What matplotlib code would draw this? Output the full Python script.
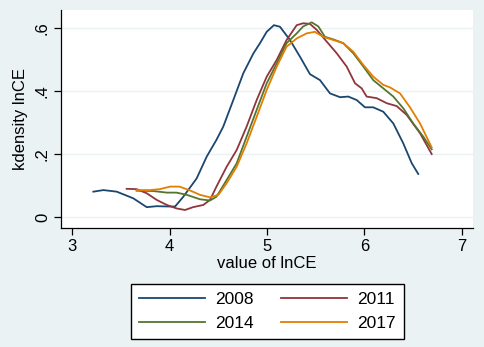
import matplotlib
matplotlib.use("Agg")
import matplotlib.pyplot as plt

plt.rcParams['font.family'] = ['Liberation Sans', 'DejaVu Sans']

# 2008
x2008 = [3.216, 3.32, 3.456, 3.626, 3.764, 3.866, 4.003, 4.055, 4.14, 4.277, 4.38, 4.48, 4.55, 4.653,
         4.756, 4.86, 4.927, 4.996, 5.07, 5.132, 5.235, 5.338, 5.44, 5.543, 5.646, 5.749, 5.834, 5.92,
         6.005, 6.09, 6.193, 6.296, 6.398, 6.485, 6.552]
y2008 = [0.081, 0.086, 0.081, 0.06, 0.032, 0.035, 0.034, 0.034, 0.065, 0.123, 0.192, 0.245, 0.287, 0.371,
         0.456, 0.519, 0.551, 0.587, 0.608, 0.603, 0.561, 0.508, 0.453, 0.434, 0.392, 0.38, 0.382, 0.371,
         0.348, 0.348, 0.334, 0.297, 0.234, 0.171, 0.137]
# 2011
x2011 = [3.558, 3.66, 3.764, 3.866, 3.97, 4.07, 4.157, 4.24, 4.345, 4.414, 4.48, 4.585, 4.688, 4.79,
         4.893, 4.996, 5.099, 5.2, 5.304, 5.37, 5.44, 5.51, 5.612, 5.715, 5.817, 5.903, 5.971, 6.022,
         6.125, 6.228, 6.33, 6.433, 6.57, 6.69]
y2011 = [0.09, 0.089, 0.076, 0.055, 0.039, 0.028, 0.023, 0.032, 0.039, 0.055, 0.097, 0.16, 0.213, 0.287,
         0.371, 0.445, 0.498, 0.561, 0.608, 0.614, 0.612, 0.593, 0.556, 0.519, 0.477, 0.424, 0.408, 0.382,
         0.377, 0.361, 0.352, 0.324, 0.266, 0.2]
# 2014
x2014 = [3.66, 3.83, 3.97, 4.07, 4.175, 4.31, 4.414, 4.48, 4.585, 4.688, 4.79, 4.893, 4.996, 5.099,
         5.2, 5.304, 5.37, 5.458, 5.526, 5.594, 5.68, 5.782, 5.885, 5.988, 6.09, 6.193, 6.296, 6.398,
         6.5, 6.604, 6.69]
y2014 = [0.084, 0.083, 0.078, 0.078, 0.071, 0.057, 0.053, 0.065, 0.118, 0.171, 0.255, 0.34, 0.424, 0.487,
         0.551, 0.582, 0.604, 0.617, 0.604, 0.571, 0.563, 0.551, 0.519, 0.477, 0.434, 0.408, 0.382, 0.345,
         0.297, 0.255, 0.215]
# 2017
x2017 = [3.66, 3.8, 3.9, 4.003, 4.1, 4.2, 4.31, 4.414, 4.5, 4.585, 4.688, 4.79, 4.893, 4.996, 5.099,
         5.2, 5.304, 5.406, 5.49, 5.577, 5.68, 5.782, 5.885, 5.988, 6.09, 6.193, 6.262, 6.365, 6.467,
         6.57, 6.69]
y2017 = [0.086, 0.086, 0.089, 0.097, 0.097, 0.086, 0.071, 0.063, 0.071, 0.108, 0.16, 0.234, 0.318, 0.403,
         0.477, 0.54, 0.566, 0.582, 0.587, 0.571, 0.561, 0.551, 0.524, 0.482, 0.445, 0.419, 0.411, 0.392,
         0.348, 0.297, 0.221]

labels = ['2008', '2011', '2014', '2017']
colors = ['#1a476f', '#90353b', '#55752f', '#e37e00']
xticks = [3, 4, 5, 6, 7]
yticks = [0, 0.2, 0.4, 0.6]
ytick_labels = ['0', '.2', '.4', '.6']

bg = '#eaf2f3'
fig = plt.figure(figsize=(4.84, 3.47), dpi=100, facecolor=bg)
ax = fig.add_axes([61/484, 1 - 228/347, (473 - 61)/484, (228 - 10)/347])
ax.set_facecolor('white')

series = [(x2008, y2008), (x2011, y2011), (x2014, y2014), (x2017, y2017)]
handles = []
for (xs, ys), lab, c in zip(series, labels, colors):
    h, = ax.plot(xs, ys, color=c, lw=1.3, label=lab)
    handles.append(h)

ax.set_xlim(2.884, 7.114)
ax.set_ylim(-0.034, 0.656)
ax.set_xticks(xticks)
ax.set_xticklabels([str(t) for t in xticks])
ax.set_yticks(yticks)
ax.set_yticklabels(ytick_labels, rotation=90, va='center')
for t in yticks:
    ax.axhline(t, color=bg, lw=1.0, zorder=0)
for s in ['top', 'right']:
    ax.spines[s].set_visible(False)
for s in ['left', 'bottom']:
    ax.spines[s].set_color('black')
    ax.spines[s].set_linewidth(0.9)
ax.tick_params(axis='both', direction='out', length=5, width=0.9, labelsize=12, colors='black', pad=3)
ax.set_xlabel('value of lnCE', fontsize=12, labelpad=1)
ax.set_ylabel('kdensity lnCE', fontsize=12, labelpad=5)

# row-major order as in the reference legend: 2008 2011 / 2014 2017
order = [0, 2, 1, 3]
leg = fig.legend([handles[i] for i in order], [labels[i] for i in order], ncol=2, loc='center',
                 bbox_to_anchor=(267.5/484, 1 - 311.5/347),
                 fontsize=12.5, frameon=True, fancybox=False, edgecolor='black',
                 facecolor='white', framealpha=1, handlelength=3.8, handletextpad=0.6,
                 columnspacing=1.55, labelspacing=0.55, borderpad=0.45, borderaxespad=0)
leg.get_frame().set_linewidth(1.0)

fig.savefig('out.png', dpi=100, facecolor=bg)
